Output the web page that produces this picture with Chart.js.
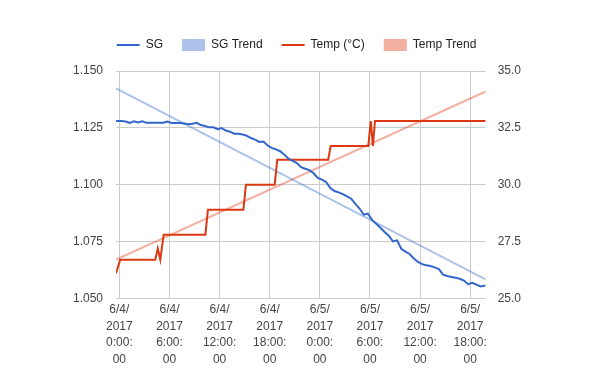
<!DOCTYPE html>
<html lang="en">
  <head>
    <meta charset="UTF-8">
    <script src="https://cdn.jsdelivr.net/npm/chart.js@4.4.0/dist/chart.umd.min.js"></script>
    <style>
      html, body {
        margin: 0;
        padding: 0;
        background: #FFFFFF;
      }
      .chart-box {
        width: 600px;
        height: 371px;
      }
    </style>
  </head>
  <body>
    <div class="chart-box">
      <canvas id="sgChart"></canvas>
    </div>

    <script>
      // hours since 6/4/2017 0:00
      const sgHours = [
        -0.4, 0.25, 0.75, 1.25, 1.75, 2.25, 2.75, 3.25, 3.75, 4.25,
        4.75, 5.25, 5.75, 6.25, 6.75, 7.25, 7.75, 8.25, 8.75, 9.25,
        9.75, 10.25, 10.75, 11.25, 11.75, 12.25, 12.75, 13.25, 13.75, 14.25,
        14.75, 15.25, 15.75, 16.25, 16.75, 17.25, 17.75, 18.25, 18.75, 19.25,
        19.75, 20.25, 20.75, 21.25, 21.75, 22.25, 22.75, 23.25, 23.75, 24.25,
        24.75, 25.25, 25.75, 26.25, 26.75, 27.25, 27.75, 28.25, 28.75, 29.25,
        29.75, 30.25, 30.75, 31.25, 31.75, 32.25, 32.75, 33.25, 33.75, 34.25,
        34.75, 35.25, 35.75, 36.25, 36.75, 37.25, 37.75, 38.25, 38.75, 39.25,
        39.75, 40.25, 40.75, 41.25, 41.75, 42.25, 42.75, 43.25, 43.85
      ];
      const sgValues = [
        1.1280, 1.1280, 1.1278, 1.1272, 1.1279, 1.1274, 1.1279, 1.1272, 1.1272, 1.1272,
        1.1272, 1.1272, 1.1278, 1.1271, 1.1271, 1.1271, 1.1269, 1.1266, 1.1268, 1.1272,
        1.1262, 1.1258, 1.1252, 1.1252, 1.1244, 1.1249, 1.1238, 1.1233, 1.1224, 1.1224,
        1.1221, 1.1215, 1.1205, 1.1198, 1.1188, 1.1190, 1.1172, 1.1162, 1.1155, 1.1147,
        1.1132, 1.1114, 1.1105, 1.1095, 1.1077, 1.1070, 1.1064, 1.1050, 1.1030, 1.1022,
        1.1012, 1.0985, 1.0972, 1.0966, 1.0958, 1.0948, 1.0938, 1.0915, 1.0895, 1.0868,
        1.0872, 1.0845, 1.0828, 1.0810, 1.0792, 1.0775, 1.0750, 1.0755, 1.0718, 1.0705,
        1.0695, 1.0675, 1.0660, 1.0650, 1.0645, 1.0642, 1.0636, 1.0628, 1.0604, 1.0598,
        1.0594, 1.0590, 1.0586, 1.0578, 1.0562, 1.0568, 1.0560, 1.0552, 1.0556
      ];
      const tempHours = [
        -0.4, 0.1, 4.3, 4.6, 4.9, 5.3, 10.3, 10.6, 14.85, 15.15,
        18.6, 18.9, 25.0, 25.3, 29.8, 30.1, 30.35, 30.6, 43.85
      ];
      const tempValues = [
        26.1, 26.7, 26.7, 27.2, 26.7, 27.8, 27.8, 28.9, 28.9, 30.0,
        30.0, 31.1, 31.1, 31.7, 31.7, 32.8, 31.7, 32.8, 32.8
      ];
      const trendHours = [-0.4, 43.85];
      const sgTrendValues = [1.1424, 1.0583];
      const tempTrendValues = [26.7, 34.1];

      const tickHours = [0, 6, 12, 18, 24, 30, 36, 42];
      const xTickLabels = [
        ['6/4/', '2017', '0:00:', '00'],
        ['6/4/', '2017', '6:00:', '00'],
        ['6/4/', '2017', '12:00:', '00'],
        ['6/4/', '2017', '18:00:', '00'],
        ['6/5/', '2017', '0:00:', '00'],
        ['6/5/', '2017', '6:00:', '00'],
        ['6/5/', '2017', '12:00:', '00'],
        ['6/5/', '2017', '18:00:', '00']
      ];

      const toPoints = (xs, ys) => xs.map((x, i) => ({ x: x, y: ys[i] }));

      const blue = '#3366cc';
      const red = '#dc3912';
      const blueTrend = 'rgba(51, 102, 204, 0.4)';
      const redTrend = 'rgba(220, 57, 18, 0.4)';
      const font = { family: "'Liberation Sans', Arial, sans-serif", size: 12 };

      // a bit more room between the legend and the plot
      const legendGap = {
        id: 'legendGap',
        beforeInit(chart) {
          const fit = chart.legend.fit;
          chart.legend.fit = function () {
            fit.bind(chart.legend)();
            this.height += 10;
          };
        }
      };

      const ctx = document.getElementById('sgChart').getContext('2d');
      const sgChart = new Chart(ctx, {
        type: 'line',
        data: {
          datasets: [
            {
              label: 'SG',
              data: toPoints(sgHours, sgValues),
              borderColor: blue,
              backgroundColor: blue,
              borderWidth: 2,
              pointRadius: 0,
              yAxisID: 'ySG',
              order: 0
            },
            {
              label: 'SG Trend',
              data: toPoints(trendHours, sgTrendValues),
              borderColor: blueTrend,
              backgroundColor: blueTrend,
              borderWidth: 2,
              pointRadius: 0,
              yAxisID: 'ySG',
              order: 2
            },
            {
              label: 'Temp (°C)',
              data: toPoints(tempHours, tempValues),
              borderColor: red,
              backgroundColor: red,
              borderWidth: 2,
              pointRadius: 0,
              yAxisID: 'yTemp',
              order: 1
            },
            {
              label: 'Temp Trend',
              data: toPoints(trendHours, tempTrendValues),
              borderColor: redTrend,
              backgroundColor: redTrend,
              borderWidth: 2,
              pointRadius: 0,
              yAxisID: 'yTemp',
              order: 3
            }
          ]
        },
        options: {
          responsive: true,
          maintainAspectRatio: false,
          animation: false,
          layout: {
            padding: { left: 60, right: 67, top: 20, bottom: 0 }
          },
          plugins: {
            tooltip: { enabled: false },
            legend: {
              position: 'top',
              labels: {
                usePointStyle: true,
                pointStyleWidth: 23,
                boxHeight: 12,
                padding: 19,
                color: '#222222',
                font: font,
                generateLabels: chart => chart.data.datasets.map((ds, i) => {
                  const isTrend = ds.label.indexOf('Trend') !== -1;
                  return {
                    text: ds.label,
                    fillStyle: ds.borderColor,
                    strokeStyle: ds.borderColor,
                    lineWidth: isTrend ? 0 : 2,
                    pointStyle: isTrend ? 'rect' : 'line',
                    fontColor: '#222222',
                    hidden: false,
                    datasetIndex: i
                  };
                })
              }
            }
          },
          scales: {
            x: {
              type: 'linear',
              min: -0.4,
              max: 43.85,
              afterBuildTicks: scale => {
                scale.ticks = tickHours.map(v => ({ value: v }));
              },
              ticks: {
                autoSkip: false,
                maxRotation: 0,
                padding: 3,
                color: '#444444',
                font: { family: font.family, size: 12, lineHeight: 1.39 },
                callback: (value, index) => xTickLabels[index]
              },
              grid: { color: '#cccccc', drawTicks: false },
              border: { display: false }
            },
            ySG: {
              type: 'linear',
              position: 'left',
              min: 1.05,
              max: 1.15,
              ticks: {
                stepSize: 0.025,
                padding: 13,
                color: '#444444',
                font: font,
                callback: v => v.toFixed(3)
              },
              grid: { color: '#cccccc', drawTicks: false },
              border: { display: false }
            },
            yTemp: {
              type: 'linear',
              position: 'right',
              min: 25,
              max: 35,
              ticks: {
                stepSize: 2.5,
                padding: 12,
                color: '#444444',
                font: font,
                callback: v => v.toFixed(1)
              },
              grid: { drawOnChartArea: false, drawTicks: false },
              border: { display: false }
            }
          }
        },
        plugins: [legendGap]
      });
    </script>
  </body>
</html>
